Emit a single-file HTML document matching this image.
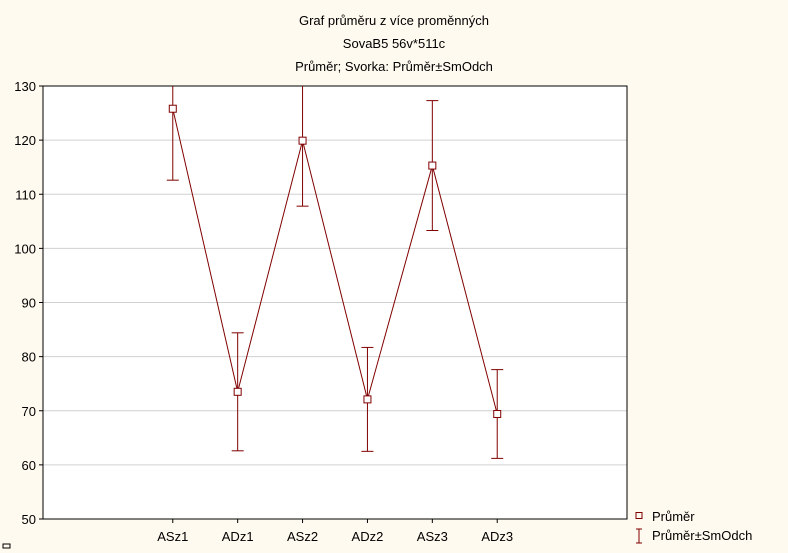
<!DOCTYPE html>
<html><head><meta charset="utf-8"><style>
body{margin:0;background:#fffaef;}
svg{display:block;font-family:"Liberation Sans",sans-serif;}
</style></head><body>
<svg width="788" height="553" viewBox="0 0 788 553">
<rect x="0" y="0" width="788" height="553" fill="#fffaef"/>
<rect x="43" y="86" width="584" height="433" fill="#ffffff"/>
<g font-size="13" text-anchor="middle" fill="#000">
<text x="394" y="25">Graf průměru z více proměnných</text>
<text x="394" y="48">SovaB5 56v*511c</text>
<text x="394" y="71">Průměr; Svorka: Průměr±SmOdch</text>
</g>
<g id="grid"></g>
<g id="yaxis"></g>
<g id="xaxis"></g>
<rect x="43" y="86" width="584" height="433" fill="none" stroke="#000" stroke-width="1"/>
<g id="series"></g>
<g font-size="13" fill="#000">
<g>
<rect x="636" y="512.5" width="6" height="6" fill="none" stroke="#800000"/>
<text x="652" y="521">Průměr</text></g>
<g stroke="#800000">
<line x1="639" y1="529" x2="639" y2="543"/><line x1="636" y1="529" x2="642" y2="529"/><line x1="636" y1="543" x2="642" y2="543"/>
<text x="652" y="540" stroke="none">Průměr±SmOdch</text></g>
</g>
<rect x="3" y="544" width="7" height="4" fill="none" stroke="#000"/>
</svg>
<script>
const categories=["ASz1","ADz1","ASz2","ADz2","ASz3","ADz3"];
const means=[125.8,73.5,119.9,72.1,115.3,69.4];
const sds=[13.2,10.9,12.1,9.6,12.0,8.2];
const yTicks=[50,60,70,80,90,100,110,120,130];
const NS="http://www.w3.org/2000/svg";
const L=43,R=627,T=86,B=519,yMin=50,yMax=130;
const y=v=>B-(v-yMin)/(yMax-yMin)*(B-T);
const x=i=>L+(i+2)*(R-L)/9;
const cl=v=>Math.max(T,Math.min(B,v));
function mk(tag,attrs,parent){const e=document.createElementNS(NS,tag);for(const k in attrs)e.setAttribute(k,attrs[k]);parent.appendChild(e);return e;}
const grid=document.getElementById('grid'),ya=document.getElementById('yaxis'),xa=document.getElementById('xaxis'),s=document.getElementById('series');
yTicks.forEach(t=>{
 const g=mk('line',{x1:L,x2:R,y1:y(t),y2:y(t),stroke:'#d0d0d0'},grid);
 
 
 const tk=mk('line',{x1:L-4,x2:L,y1:y(t),y2:y(t),stroke:'#000'},ya);
 
 
 const tx=mk('text',{x:L-7,y:y(t)+5,'font-size':13,'text-anchor':'end'},ya);
 tx.textContent=t;
 
 
});
categories.forEach((c,i)=>{
 const tk=mk('line',{x1:x(i),x2:x(i),y1:B,y2:B+4,stroke:'#000'},xa);
 
 
 const tx=mk('text',{x:x(i),y:B+22,'font-size':13,'text-anchor':'middle'},xa);
 tx.textContent=c;
 
 
});
const line=mk('polyline',{points:means.map((m,i)=>x(i)+','+y(m)).join(' '),fill:'none',stroke:'#800000','stroke-width':1},s);


means.forEach((m,i)=>{
 const g=mk('g',{stroke:'#800000',fill:'none'},s);
 
 
 const top=y(m+sds[i]),bot=y(m-sds[i]);
 mk('line',{x1:x(i),x2:x(i),y1:cl(top),y2:cl(bot)},g);
 if(top>=T)mk('line',{x1:x(i)-6,x2:x(i)+6,y1:top,y2:top},g);
 if(bot<=B)mk('line',{x1:x(i)-6,x2:x(i)+6,y1:bot,y2:bot},g);
 const p=mk('rect',{x:x(i)-3.5,y:y(m)-3.5,width:7,height:7,fill:'#fff',stroke:'#800000'},s);
 
 
});
</script>
</body></html>
